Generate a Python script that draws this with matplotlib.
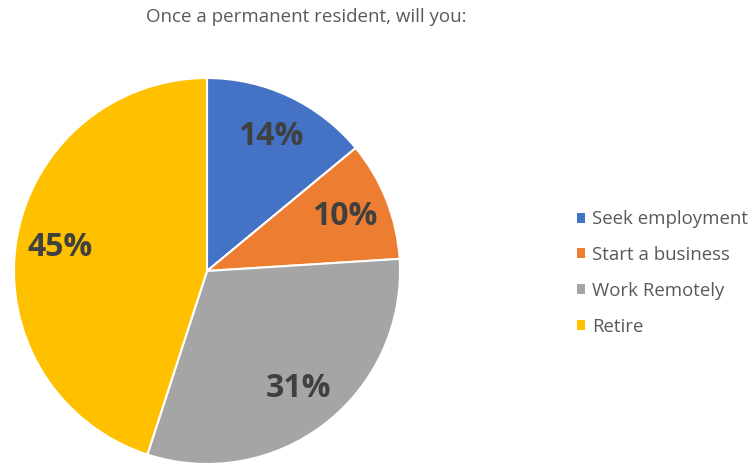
import matplotlib.pyplot as plt
from matplotlib.patches import Patch

# survey answers
labels = ["Seek employment", "Start a business", "Work Remotely", "Retire"]
shares = [14, 10, 31, 45]
colors = ["#4472C4", "#ED7D31", "#A5A5A5", "#FFC000"]

plt.rcParams['font.family'] = ['Open Sans', 'DejaVu Sans']

W, H = 751, 465
fig = plt.figure(figsize=(W / 100, H / 100), dpi=100)
fig.patch.set_facecolor('white')

# pie centred at (207, 271) px with radius 193 px
cx, cy, r = 207, 271, 193
ax = fig.add_axes([(cx - r) / W, (H - cy - r) / H, 2 * r / W, 2 * r / H])
wedges, _, autotexts = ax.pie(
    shares,
    colors=colors,
    startangle=90,
    counterclock=False,
    autopct='%d%%',
    pctdistance=0.77,
    wedgeprops=dict(edgecolor='white', linewidth=1.5),
    textprops=dict(color='#404040', fontsize=23, fontweight='bold'),
)
ax.set_xlim(-1, 1)
ax.set_ylim(-1, 1)
ax.set_aspect('auto')

fig.text(306 / W, 1 - 17 / H, "Once a permanent resident, will you:",
         ha='center', va='center', fontsize=13.5, color='#595959')

handles = [Patch(facecolor=c, edgecolor='none') for c in colors]
fig.legend(handles, labels, loc='center left', bbox_to_anchor=(560 / W, 1 - 273 / H),
           frameon=False, fontsize=13.4, labelcolor='#595959',
           handlelength=0.45, handleheight=0.45, handletextpad=0.37, labelspacing=0.96)

fig.savefig('out.png', dpi=100)
